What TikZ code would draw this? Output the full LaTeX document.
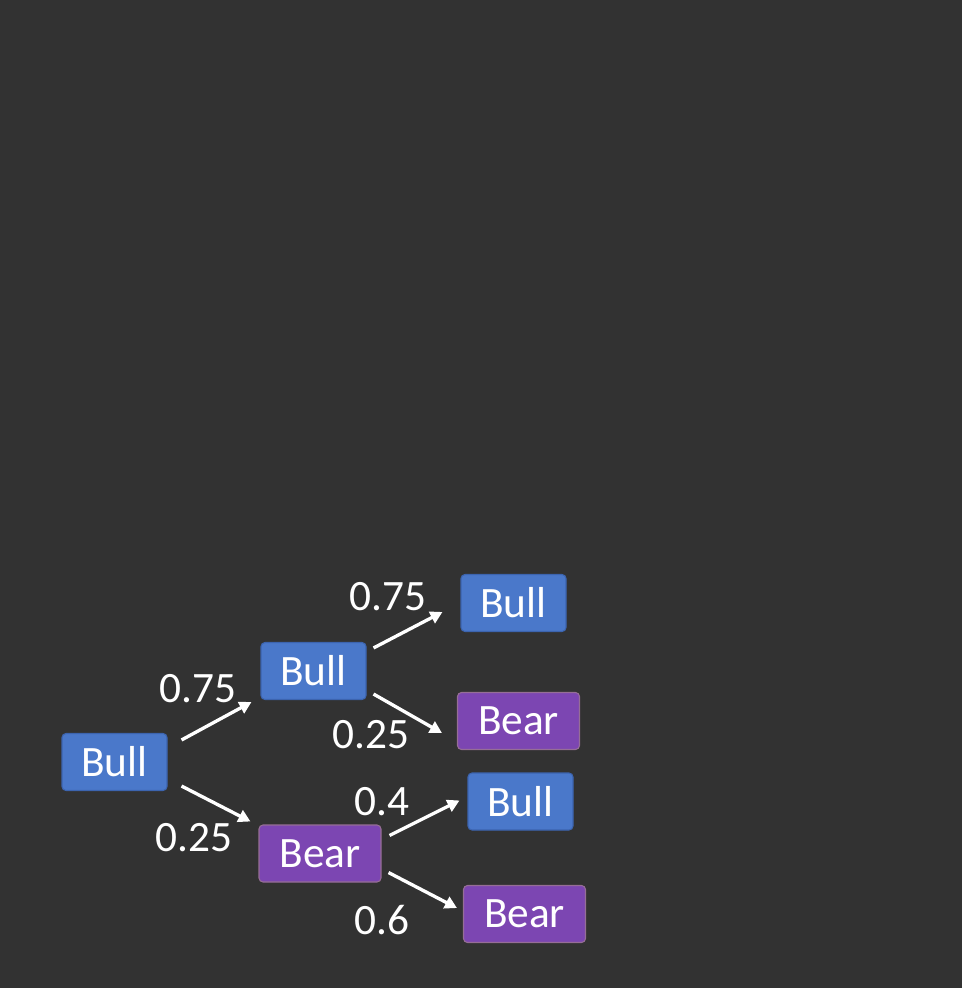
\documentclass[tikz,border=0pt]{standalone}
\usepackage{fontspec}
\setmainfont{Carlito}
\usetikzlibrary{arrows.meta,calc}
\definecolor{board}{RGB}{50,50,50}
\definecolor{bullblue}{RGB}{74,120,202}
\definecolor{bulledge}{RGB}{60,100,175}
\definecolor{bearpurple}{RGB}{124,70,178}
\definecolor{bearedge}{RGB}{150,110,150}
\tikzset{
  box/.style={rounded corners=3pt, inner sep=0pt, minimum height=42.75pt, text=white, font=\fontsize{32.5}{32.5}\selectfont, line width=0.8pt},
  bullbox/.style={box, fill=bullblue, draw=bulledge, minimum width=78.75pt},
  bearbox/.style={box, fill=bearpurple, draw=bearedge, minimum width=91.5pt},
  prob/.style={text=white, font=\fontsize{32.5}{32.5}\selectfont, inner sep=0pt},
  arr/.style={white, line width=2.5pt, -{Triangle[length=9pt,width=9.5pt]}}
}
\begin{document}
\begin{tikzpicture}[x=0.75pt,y=-0.75pt]
\fill[board] (0,0) rectangle (962,988);
\useasboundingbox (0,0) rectangle (962,988);
% nodes
\node[bullbox] (root) at (114.5,762) {Bull};
\node[bullbox] (bm) at (313.5,671) {Bull};
\node[bearbox] (rm) at (320,853.5) {Bear};
\node[bullbox] (bb) at (513.5,603) {Bull};
\node[bearbox] (br) at (518.5,721) {Bear};
\node[bullbox] (rb) at (520.5,801.5) {Bull};
\node[bearbox] (rr) at (524.5,914) {Bear};
% labels
\node[prob] (l1) at (198,689) {0.75};
\node[prob] (l2) at (194,838) {0.25};
\node[prob] (l3) at (388,597) {0.75};
\node[prob] (l4) at (371,735) {0.25};
\node[prob] (l5) at (382,802) {0.4};
\node[prob] (l6) at (382,920) {0.6};
% arrows
\draw[arr] ($(root.north east)+(14,7)$) -- ($(bm.south west)+(-9,2)$);
\draw[arr] ($(root.south east)+(14,-5)$) -- ($(rm.north west)+(-8,-3)$);
\draw[arr] ($(bm.north east)+(7,6)$) -- ($(bb.west)+(-18,9)$);
\draw[arr] ($(bm.south east)+(7,-6)$) -- ($(br.west)+(-15,12)$);
\draw[arr] ($(rm.north east)+(8,11)$) -- ($(rb.west)+(-8,-1)$);
\draw[arr] ($(rm.south east)+(7,-10)$) -- ($(rr.west)+(-6,-6)$);
\end{tikzpicture}
\end{document}
